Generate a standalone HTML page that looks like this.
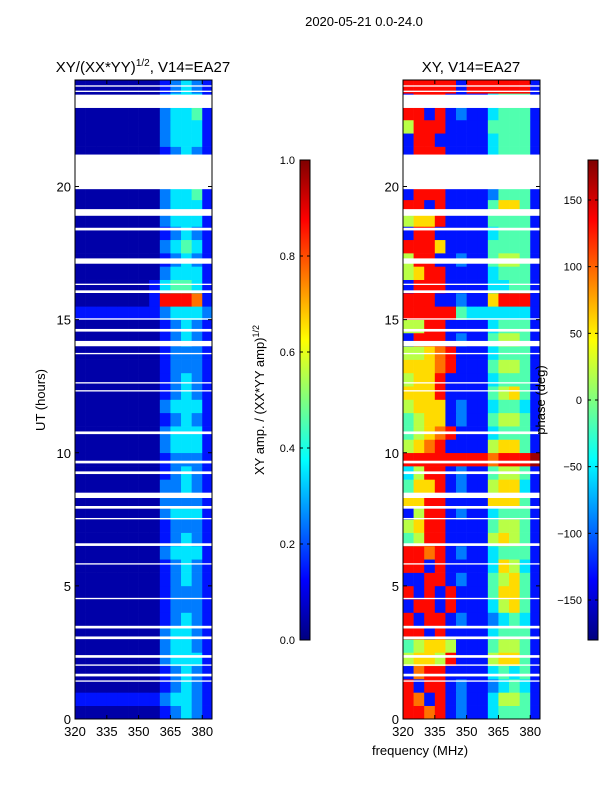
<!DOCTYPE html>
<html><head><meta charset="utf-8"><style>
body{margin:0;background:#fff;font-family:"Liberation Sans",sans-serif;}
svg text{font-family:"Liberation Sans",sans-serif;fill:#000;}
</style></head><body>
<svg id="fig" width="600" height="800" xmlns="http://www.w3.org/2000/svg">
<defs>
<linearGradient id="jet" x1="0" y1="1" x2="0" y2="0">
<stop offset="0" stop-color="#00007f"/><stop offset="0.125" stop-color="#0000ff"/>
<stop offset="0.375" stop-color="#00ffff"/><stop offset="0.625" stop-color="#ffff00"/>
<stop offset="0.875" stop-color="#ff0000"/><stop offset="1" stop-color="#7f0000"/>
</linearGradient>
</defs>
<text x="364" y="26" font-size="13" text-anchor="middle">2020-05-21 0.0-24.0</text>
<text x="143" y="72" font-size="15" text-anchor="middle">XY/(XX*YY)<tspan font-size="10" dy="-6">1/2</tspan><tspan dy="6">, V14=EA27</tspan></text>
<text x="471" y="72" font-size="15" text-anchor="middle">XY, V14=EA27</text>
<text x="420" y="755" font-size="13" text-anchor="middle">frequency (MHz)</text>
<text transform="translate(45,400) rotate(-90)" font-size="13" text-anchor="middle">UT (hours)</text>
<g id="left"></g>
<g id="right"></g>
<g id="cb1"></g>
<g id="cb2"></g>
<text transform="translate(264,400) rotate(-90)" font-size="13" text-anchor="middle">XY amp. / (XX*YY amp)<tspan font-size="9" dy="-5">1/2</tspan></text>
<text transform="translate(545,400) rotate(-90)" font-size="13" text-anchor="middle">phase (deg)</text>
</svg>
<script>
const freqStart = 320, freqStep = 5;
const hourStep = 0.5;
const xTicks = [320, 335, 350, 365, 380];
const yTicks = [0, 5, 10, 15, 20];
const ampTicks = [0.0, 0.2, 0.4, 0.6, 0.8, 1.0];
const phaseTicks = [-150, -100, -50, 0, 50, 100, 150];
const gaps = [[22.95,23.45],[23.55,23.6],[23.75,23.8],[19.9,21.2],[18.9,19.15],[18.35,18.45],[17.1,17.3],[16.0,16.1],[16.3,16.35],[15.0,15.05],[14.55,14.65],[14.0,14.2],[13.7,13.75],[12.6,12.65],[12.3,12.35],[10.7,10.8],[9.6,9.7],[9.2,9.3],[8.3,8.5],[7.9,8.0],[7.5,7.55],[6.5,6.6],[5.8,5.85],[4.5,4.55],[3.4,3.5],[3.0,3.1],[2.3,2.4],[2.0,2.05],[1.6,1.7],[1.4,1.45]];
const ampRows = ["0000000012321","1111111123321","0000000012321","0000000012321","0000000023331","0000000023321","0000000023321","0000000012321","0000000012221","0000000012221","0000000012321","0000000012321","0000000023331","0000000012321","0000000012221","0000000023331","0000000022221","0000000022321","0000000012321","0000000012221","0000000023331","0000000023331","0000000012321","0000000023331","0000000012321","0000000012321","0000000012221","0000000012221","0000000012321","0000000012321","1111111123332","0000000188871","0000000134431","0000000023331","0000000012321","0000000023431","0000000012321","0000000023331","0000000023331","0000000023341","0000000012321","0000000012321","0000000012321","0000000023331","0000000023331","0000000023341","0000000023331","0000000012321"];
const phaseRows = ["8878121134441","8718121135541","8188121123431","1788111134341","5665811156641","4566511145541","8818111134441","8188121123431","1881811135641","8181811146641","1188121145641","8818111136531","8878121134441","4588111156541","5688111145541","1588121134441","6688111166641","4668121156631","3588121145541","8888888878889","5678111156641","4567811134441","4566121145541","5666121134431","6668111145641","5668111134441","6667811145541","5567811134441","1888121145541","5588111134441","8888843333331","8881121168881","1888111133441","5688111134441","5881121145541","8886111144441","1881111134441","5668111144441","8818111146641","1888111124441","1888111134441","1888111134441","1888111134441","1881111134441","5888111144441","8818121134441","1888111134441","8888818888881"];

const NS="http://www.w3.org/2000/svg";
function jet(v){
  const st=[[0,[0,0,127]],[0.125,[0,0,255]],[0.375,[0,255,255]],[0.625,[255,255,0]],[0.875,[255,0,0]],[1,[127,0,0]]];
  for(let i=1;i<st.length;i++){ if(v<=st[i][0]){const a=st[i-1],b=st[i],t=(v-a[0])/(b[0]-a[0]);
    return 'rgb('+a[1].map((c,k)=>Math.round(c+(b[1][k]-c)*t)).join(',')+')';}}
  return 'rgb(127,0,0)';
}
const yOf = h => 719 - (h/24)*(719-80);
const fx = (x0) => f => x0 + (f-320)*(137/64.6);
function mk(tag,attrs,parent){const e=document.createElementNS(NS,tag);for(const k in attrs)e.setAttribute(k,attrs[k]);parent.appendChild(e);return e;}

function panel(gid,x0,rows){
  const g=document.getElementById(gid); const X=fx(x0);
  rows.forEach((row,ri)=>{
    for(let ci=0;ci<row.length;ci++){
      const f0=freqStart+ci*freqStep, f1=Math.min(f0+freqStep,384.6);
      const h0=ri*hourStep, h1=h0+hourStep;
      const r=mk('rect',{x:X(f0),y:yOf(h1),width:X(f1)-X(f0)+0.3,height:yOf(h0)-yOf(h1)+0.3,fill:jet(0.04+(+row[ci])/9*0.93)},g);
      
      
    }
  });
  gaps.forEach(gp=>{
    const r=mk('rect',{x:x0,y:yOf(gp[1]),width:137,height:Math.max(1,yOf(gp[0])-yOf(gp[1])),fill:'#fff'},g);
    
    
  });
  const fr=mk('rect',{x:x0,y:80,width:137,height:639,fill:'none',stroke:'#000','stroke-width':1},g);
  
  
  xTicks.forEach(t=>{
    mk('line',{x1:X(t),x2:X(t),y1:719,y2:715,stroke:'#000'},g);
    mk('line',{x1:X(t),x2:X(t),y1:80,y2:84,stroke:'#000'},g);
    const tx=mk('text',{x:X(t),y:736,'font-size':13,'text-anchor':'middle'},g); tx.textContent=t;
    
    
  });
  yTicks.forEach(t=>{
    mk('line',{x1:x0,x2:x0+4,y1:yOf(t),y2:yOf(t),stroke:'#000'},g);
    mk('line',{x1:x0+133,x2:x0+137,y1:yOf(t),y2:yOf(t),stroke:'#000'},g);
    const tx=mk('text',{x:x0-4,y:yOf(t)+5,'font-size':13,'text-anchor':'end'},g); tx.textContent=t;
    
    
  });
}
panel('left',75,ampRows);
panel('right',403,phaseRows);

function colorbar(gid,x,ticks,lo,hi,labelX,anchor,fmt){
  const g=document.getElementById(gid);
  mk('rect',{x:x,y:160,width:10,height:480,fill:'url(#jet)',stroke:'#000','stroke-width':1},g);
  ticks.forEach(t=>{
    const y=640-(t-lo)/(hi-lo)*480;
    mk('line',{x1:x,x2:x+3,y1:y,y2:y,stroke:'#000'},g);
    mk('line',{x1:x+7,x2:x+10,y1:y,y2:y,stroke:'#000'},g);
    const tx=mk('text',{x:labelX,y:y+4,'font-size':11,'text-anchor':anchor},g); tx.textContent=fmt(t);
    
    
  });
}
colorbar('cb1',300,ampTicks,0,1,295,'end',t=>t.toFixed(1));
colorbar('cb2',588,phaseTicks,-180,180,582,'end',t=>t<0?'\u2212'+(-t):String(t));
</script>
</body></html>
